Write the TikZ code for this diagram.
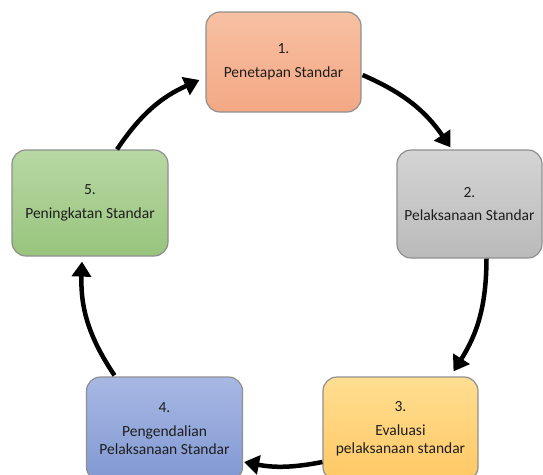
\documentclass[tikz,border=0pt]{standalone}
\usepackage{fontspec}
\setmainfont{Carlito}
\usetikzlibrary{arrows.meta,calc}
\definecolor{bordgray}{HTML}{8F8F8F}
\definecolor{txt}{HTML}{1E1E1E}
\begin{document}
\begin{tikzpicture}[x=1pt,y=-1pt,
  stepbox/.style={draw=bordgray,line width=1.2pt,rounded corners=14pt,align=center,
    font=\fontsize{15.5}{18.5}\selectfont,text=txt,inner sep=0pt},
  cyc/.style={line width=4.5pt,-{Triangle[length=15pt,width=19pt]}}]
\useasboundingbox (0,0) rectangle (543,474);
\node[stepbox,top color={rgb,255:red,247;green,192;blue,163},bottom color={rgb,255:red,244;green,168;blue,132},
  minimum width=155pt,minimum height=100pt] (b1) at (283.5,62) {1.\\[5pt]Penetapan Standar};
\node[stepbox,top color={rgb,255:red,212;green,212;blue,212},bottom color={rgb,255:red,186;green,186;blue,186},
  minimum width=145pt,minimum height=108pt] (b2) at (469.5,204) {2.\\[5pt]Pelaksanaan Standar};
\node[stepbox,top color={rgb,255:red,255;green,222;blue,145},bottom color={rgb,255:red,255;green,200;blue,100},
  minimum width=155pt,minimum height=104pt] (b3) at (400.5,429) {3.\\[5pt]Evaluasi\\pelaksanaan standar};
\node[stepbox,top color={rgb,255:red,168;green,184;blue,228},bottom color={rgb,255:red,128;green,152;blue,210},
  minimum width=156pt,minimum height=104pt] (b4) at (164.5,429) {4.\\[5pt]Pengendalian\\Pelaksanaan Standar};
\node[stepbox,top color={rgb,255:red,183;green,216;blue,163},bottom color={rgb,255:red,152;green,196;blue,125},
  minimum width=156pt,minimum height=106pt] (b5) at (90,203) {5.\\[5pt]Peningkatan Standar};
\draw[cyc] ($(b1.east)+(1,13)$) to[bend left=16] ($(b2.north)+(-19,-2)$);
\draw[cyc] ($(b2.south)+(17,0)$) to[bend left=16] ($(b3.north)+(53,-5)$);
\draw[cyc] ($(b3.west)+(0,33)$) to[bend left=11] ($(b4.east)+(1,33)$);
\draw[cyc] ($(b4.north)+(-50,-1)$) to[bend left=18] ($(b5.south)+(-8,5)$);
\draw[cyc] ($(b5.north)+(27,0)$) to[bend left=16] ($(b1.west)+(-6,18)$);
\end{tikzpicture}
\end{document}
